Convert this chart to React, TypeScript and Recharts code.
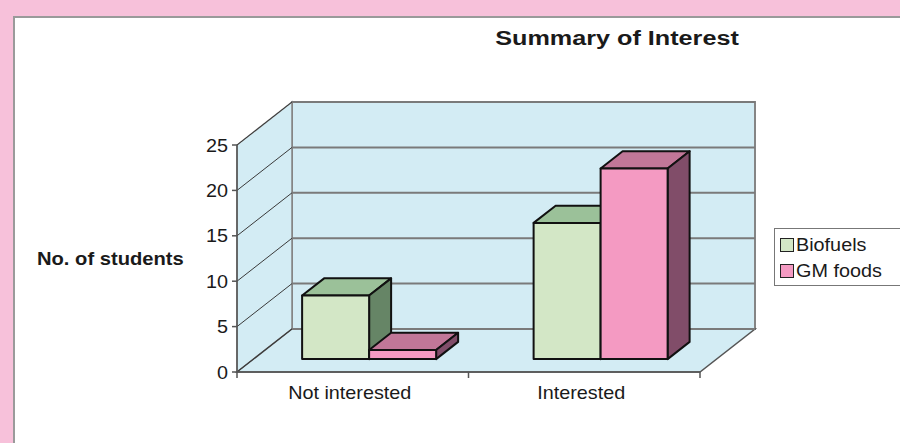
import React from 'react';
import {
  BarChart, Bar, XAxis, YAxis, CartesianGrid, ReferenceArea, Legend,
} from 'recharts';

// ─── data ─────────────────────────────────────────────────────────────────────

const categories = ['Not interested', 'Interested'];
const biofuels   = [7, 15];
const gmFoods    = [1, 21];
const yTicks     = [0, 5, 10, 15, 20, 25];

const data = categories.map((c, i) => ({
  name:     c,
  biofuels: biofuels[i],
  gmFoods:  gmFoods[i],
}));

// ─── 3d look ──────────────────────────────────────────────────────────────────

const DX = 55;   // full depth of the box
const DY = -43;
const FRONT = 0.3; // bars sit between 30% and 70% of the depth
const DEPTH = 0.4;

const WALL = '#d3ecf4';
const EDGE = '#858585';

const COLORS = {
  biofuels: { front: '#d3e7c6', top: '#9bc199', side: '#668566' },
  gmFoods:  { front: '#f49ac2', top: '#c17798', side: '#814d69' },
};

// the scanned text is a bit wider than plain Arial
function WideText({ x, y, size, weight, anchor, stretch, children }: any) {
  return (
    <g transform={`translate(${x},${y}) scale(${stretch ?? 1.1},1)`}>
      <text
        x={0}
        y={0}
        fontSize={size}
        fontWeight={weight ?? 'normal'}
        textAnchor={anchor ?? 'start'}
        fontFamily="'Liberation Sans', Arial, sans-serif"
        fill="#1a1a1a"
      >
        {children}
      </text>
    </g>
  );
}

function Walls(props: any) {
  const { x, y, width, height } = props;
  const L = x, R = x + width, T = y, B = y + height;
  const pts = (a: number[][]) => a.map((p) => p.join(',')).join(' ');
  return (
    <g>
      <rect x={L + DX} y={T + DY} width={width} height={height} fill={WALL} stroke={EDGE} strokeWidth={2}/>
      <polygon points={pts([[L, B], [L, T], [L + DX, T + DY], [L + DX, B + DY]])} fill={WALL} stroke={EDGE} strokeWidth={1.5}/>
      <polygon points={pts([[L, B], [R, B], [R + DX, B + DY], [L + DX, B + DY]])} fill={WALL} stroke="#555" strokeWidth={1.5}/>
    </g>
  );
}

function GridLine(props: any) {
  const { x1, x2, y1 } = props;
  return (
    <g>
      <line x1={x1 + DX} y1={y1 + DY} x2={x2 + DX} y2={y1 + DY} stroke="#7a7a7a" strokeWidth={2}/>
      <line x1={x1} y1={y1} x2={x1 + DX} y2={y1 + DY} stroke="#3a3a3a" strokeWidth={1}/>
    </g>
  );
}

function Box3D(props: any, c: { front: string; top: string; side: string }) {
  const { x, y, width, height } = props;
  const fx = x + FRONT * DX;
  const fy = y + FRONT * DY;
  const dx = DEPTH * DX;
  const dy = DEPTH * DY;
  const pts = (a: number[][]) => a.map((p) => p.join(',')).join(' ');
  return (
    <g stroke="#111" strokeWidth={2} strokeLinejoin="round">
      <polygon points={pts([[fx, fy], [fx + dx, fy + dy], [fx + width + dx, fy + dy], [fx + width, fy]])} fill={c.top}/>
      <polygon points={pts([[fx + width, fy], [fx + width + dx, fy + dy], [fx + width + dx, fy + height + dy], [fx + width, fy + height]])} fill={c.side}/>
      <rect x={fx} y={fy} width={width} height={height} fill={c.front}/>
    </g>
  );
}

function YTick(props: any) {
  const { x, y, payload } = props;
  return <WideText x={x} y={y + 6.5} size={18} anchor="end">{payload.value}</WideText>;
}

function XTick(props: any) {
  const { x, y, payload, index, visibleTicksCount } = props;
  const half = payload.offset ?? 115.75;
  const axisY = y - 5;
  const last = index === (visibleTicksCount ?? categories.length) - 1;
  return (
    <g>
      <line x1={x - half} y1={axisY} x2={x - half} y2={axisY + 6} stroke="#555" strokeWidth={1.5}/>
      {last && <line x1={x + half} y1={axisY} x2={x + half} y2={axisY + 6} stroke="#555" strokeWidth={1.5}/>}
      <WideText x={x - 3} y={axisY + 27} size={18} anchor="middle">{payload.value}</WideText>
    </g>
  );
}

function LegendBox(props: any) {
  const items = props.payload ?? [];
  return (
    <div
      style={{
        border: '1.5px solid #777',
        background: '#fff',
        padding: '3px 0 2px 5px',
        fontFamily: "'Liberation Sans', Arial, sans-serif",
        fontSize: 18,
        color: '#1a1a1a',
        boxSizing: 'border-box',
        height: 58,
      }}
    >
      {items.map((it: any) => (
        <div key={it.value} style={{ display: 'flex', alignItems: 'center', height: 26 }}>
          <span style={{
            width: 12, height: 12, background: it.color, border: '1.5px solid #222',
            display: 'inline-block', marginRight: 2, flexShrink: 0,
          }}/>
          <span style={{ display: 'inline-block', transform: 'scaleX(1.1)', transformOrigin: 'left center' }}>
            {it.value}
          </span>
        </div>
      ))}
    </div>
  );
}

export default function App() {
  return (
    <div style={{ position: 'fixed', left: 0, top: 0, width: 900, height: 443, background: '#f7c1da', overflow: 'hidden' }}>
      <div style={{
        position: 'absolute', left: 13, top: 16, width: 900, height: 443,
        background: '#fff', borderTop: '2px solid #9a9a9a', borderLeft: '2px solid #9a9a9a',
      }}/>
      <div style={{ position: 'absolute', left: 0, top: 0 }}>
        <BarChart
          width={900}
          height={443}
          data={data}
          margin={{ top: 145, right: 200, bottom: 31, left: 177 }}
          barCategoryGap="21%"
          barGap={0}
        >
          <ReferenceArea y1={0} y2={25} shape={Walls} zIndex={-150} ifOverflow="visible"/>
          <CartesianGrid vertical={false} horizontal={GridLine}/>
          <XAxis
            dataKey="name"
            height={40}
            tickLine={false}
            tickSize={5}
            tickMargin={0}
            axisLine={{ stroke: '#555', strokeWidth: 1.5 }}
            tick={XTick}
          />
          <YAxis
            width={60}
            domain={[0, 25]}
            ticks={yTicks}
            interval={0}
            tickSize={5}
            tickMargin={4}
            axisLine={{ stroke: '#555', strokeWidth: 1.5 }}
            tickLine={{ stroke: '#555', strokeWidth: 1.5 }}
            tick={YTick}
          />
          <Legend
            layout="vertical"
            align="center"
            verticalAlign="middle"
            wrapperStyle={{ left: 774, top: 228, width: 128, height: 58 }}
            content={LegendBox}
          />
          <Bar
            dataKey="biofuels"
            name="Biofuels"
            fill={COLORS.biofuels.front}
            isAnimationActive={false}
            shape={(p: any) => Box3D(p, COLORS.biofuels)}
          />
          <Bar
            dataKey="gmFoods"
            name="GM foods"
            fill={COLORS.gmFoods.front}
            isAnimationActive={false}
            shape={(p: any) => Box3D(p, COLORS.gmFoods)}
          />
        </BarChart>
      </div>
      <svg width={900} height={443} style={{ position: 'absolute', left: 0, top: 0, pointerEvents: 'none' }}>
        <WideText x={617} y={45} size={21} weight="bold" anchor="middle" stretch={1.2}>Summary of Interest</WideText>
        <WideText x={37} y={265} size={18} weight="bold" stretch={1.12}>No. of students</WideText>
      </svg>
    </div>
  );
}
